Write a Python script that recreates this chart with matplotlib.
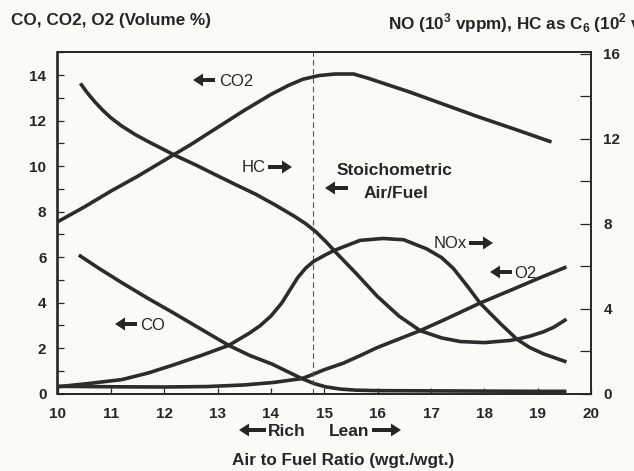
import matplotlib
matplotlib.use("Agg")
import matplotlib.pyplot as plt
from matplotlib.ticker import MultipleLocator
from matplotlib.patches import FancyArrow

plt.rcParams['font.family'] = ['Liberation Sans', 'DejaVu Sans']
plt.rcParams['mathtext.fontset'] = 'custom'
plt.rcParams['mathtext.rm'] = 'Liberation Sans:bold'
plt.rcParams['mathtext.bf'] = 'Liberation Sans:bold'

# ---- data (air/fuel ratio vs. concentration) ----
co2_x = [10.0, 10.5, 11.0, 11.5, 12.0, 12.5, 13.0, 13.5, 14.0, 14.33, 14.6, 14.9, 15.2, 15.55,
         15.8, 16.2, 16.61, 17.2, 17.86, 18.6, 19.26]
co2_y = [7.55, 8.2, 8.9, 9.55, 10.25, 10.95, 11.7, 12.45, 13.15, 13.55, 13.82, 13.98, 14.05, 14.05,
         13.88, 13.57, 13.25, 12.75, 12.19, 11.6, 11.06]

co_x = [10.4, 10.8, 11.21, 11.7, 12.15, 12.7, 13.21, 13.6, 14.02, 14.3, 14.58, 14.8, 15.02, 15.3,
        15.6, 16.0, 17.0, 18.0, 19.0, 19.54]
co_y = [6.09, 5.47, 4.87, 4.18, 3.58, 2.82, 2.12, 1.68, 1.30, 0.98, 0.66, 0.45, 0.30, 0.2,
        0.15, 0.13, 0.12, 0.11, 0.1, 0.1]

o2_x = [10.0, 11.0, 12.0, 12.8, 13.5, 14.05, 14.58, 14.74, 15.0, 15.36, 15.7, 15.99, 16.4, 16.8,
        17.3, 17.92, 18.5, 19.0, 19.54]
o2_y = [0.32, 0.3, 0.29, 0.31, 0.38, 0.49, 0.66, 0.80, 1.05, 1.34, 1.7, 2.02, 2.4, 2.77,
        3.3, 3.98, 4.55, 5.05, 5.57]

hc_x = [10.43, 10.55, 10.7, 10.85, 11.0, 11.2, 11.45, 11.7, 11.95, 12.18, 12.6, 12.96, 13.35,
        13.71, 14.1, 14.45, 14.65, 14.85, 15.05, 15.25, 15.6, 15.99, 16.4, 16.8, 17.2, 17.55,
        18.0, 18.48, 18.61, 18.85, 19.1, 19.3, 19.54]
hc_y = [14.60, 14.18, 13.73, 13.33, 12.98, 12.6, 12.2, 11.86, 11.54, 11.24, 10.75, 10.30, 9.82,
        9.39, 8.85, 8.33, 8.0, 7.6, 7.1, 6.56, 5.65, 4.59, 3.65, 2.96, 2.62, 2.45,
        2.40, 2.50, 2.56, 2.7, 2.9, 3.12, 3.5]

nox_x = [10.0, 10.6, 11.21, 11.7, 12.15, 12.7, 13.21, 13.6, 13.8, 14.0, 14.2, 14.35, 14.5,
         14.65, 14.8, 15.0, 15.17, 15.67, 16.1, 16.49, 16.92, 17.2, 17.42, 17.7, 17.92, 18.3,
         18.61, 18.85, 19.11, 19.54]
nox_y = [0.32, 0.48, 0.66, 0.97, 1.33, 1.8, 2.27, 2.85, 3.2, 3.65, 4.25, 4.85, 5.45,
         5.9, 6.22, 6.5, 6.72, 7.21, 7.3, 7.24, 6.81, 6.4, 5.89, 5.0, 4.26, 3.3,
         2.56, 2.17, 1.87, 1.49]

stoich_afr = 14.78

x_ticks = [10, 11, 12, 13, 14, 15, 16, 17, 18, 19, 20]
left_ticks = [0, 2, 4, 6, 8, 10, 12, 14]
right_ticks = [0, 4, 8, 12, 16]

# ---- styling ----
paper = '#fbfbf6'
ink = '#262626'
line_c = '#2c2c2c'
W, H = 634, 471

fig = plt.figure(figsize=(W / 100, H / 100), dpi=100, facecolor=paper)
ax = fig.add_axes([57.5 / W, 1 - 393.6 / H, (591 - 57.5) / W, (393.6 - 51.7) / H])
ax.set_facecolor(paper)
ax2 = ax.twinx()

lw = 2.6
kw = dict(color=line_c, lw=lw, solid_capstyle='butt', solid_joinstyle='round')
ax.plot(co2_x, co2_y, **kw)
ax.plot(co_x, co_y, **kw)
ax.plot(o2_x, o2_y, **kw)
ax2.plot(hc_x, hc_y, **kw)
ax2.plot(nox_x, nox_y, **kw)

ax.axvline(stoich_afr, color='#555555', lw=0.8, ls=(0, (5, 3)))

ax.set_xlim(10, 20)
ax.set_ylim(0, 15.03)
ax2.set_ylim(0, 16.09)

ax.set_xticks(x_ticks)
ax.set_yticks(left_ticks)
ax.yaxis.set_minor_locator(MultipleLocator(1))
ax2.set_yticks(right_ticks)
ax2.yaxis.set_minor_locator(MultipleLocator(2))

tick_font = dict(fontsize=11, fontweight='bold', color=ink)
ax.set_xticklabels([str(t) for t in x_ticks], **tick_font)
ax.set_yticklabels([str(t) for t in left_ticks], **tick_font)
ax2.set_yticklabels([str(t) for t in right_ticks], **tick_font)

ax.tick_params(axis='x', which='major', direction='in', length=4, width=0.9, color=ink, pad=10)
ax.tick_params(axis='y', which='both', direction='in', length=4, width=0.9, color=ink, pad=8)
ax2.tick_params(axis='y', which='both', direction='in', length=8, width=0.9, color=ink, pad=9)

for a in (ax, ax2):
    for s in a.spines.values():
        s.set_color(ink)
        s.set_linewidth(1.2)

# ---- texts ----
def ftext(px, py, s, **k):
    k.setdefault('color', ink)
    k.setdefault('va', 'center')
    k.setdefault('ha', 'left')
    fig.text(px / W, 1 - py / H, s, **k)


def arrow(x0, x1, py, direction):
    # x0..x1 pixel extent; direction -1 = left, +1 = right
    y = (H - py) / 100
    if direction < 0:
        start, d = x1 / 100, -(x1 - x0) / 100
    else:
        start, d = x0 / 100, (x1 - x0) / 100
    fig.add_artist(FancyArrow(start, y, d, 0, width=0.04, head_width=0.13,
                              head_length=0.10, length_includes_head=True,
                              transform=fig.dpi_scale_trans, color=ink, lw=0))


ftext(11, 21, 'CO, CO2, O2 (Volume %)', fontsize=12.3, fontweight='bold')
ftext(388, 23, r'NO (10$^{3}$ vppm), HC as C$_{6}$ (10$^{2}$ vppm)', fontsize=12.3, fontweight='bold')

lab = dict(fontsize=12)
arrow(193, 215, 80, -1)
ftext(219, 81, 'CO2', **lab)
ftext(242, 168, 'HC', **lab)
arrow(268, 292, 167, 1)
ftext(337, 171, 'Stoichometric', fontsize=12.5, fontweight='bold')
arrow(325, 348, 188, -1)
ftext(364, 193, 'Air/Fuel', fontsize=12.5, fontweight='bold')
ftext(434, 244, 'NOx', **lab)
arrow(469, 493, 243, 1)
arrow(490, 512, 272, -1)
ftext(514, 273, 'O2', **lab)
arrow(115, 137, 324, -1)
ftext(140, 325, 'CO', **lab)

arrow(239, 266, 430, -1)
ftext(268, 431, 'Rich', fontsize=12.5, fontweight='bold')
ftext(329, 431, 'Lean', fontsize=12.5, fontweight='bold')
arrow(372, 401, 430, 1)
ftext(343, 460, 'Air to Fuel Ratio (wgt./wgt.)', fontsize=12.3, fontweight='bold', ha='center')

fig.savefig('out.png', dpi=100, facecolor=paper)
